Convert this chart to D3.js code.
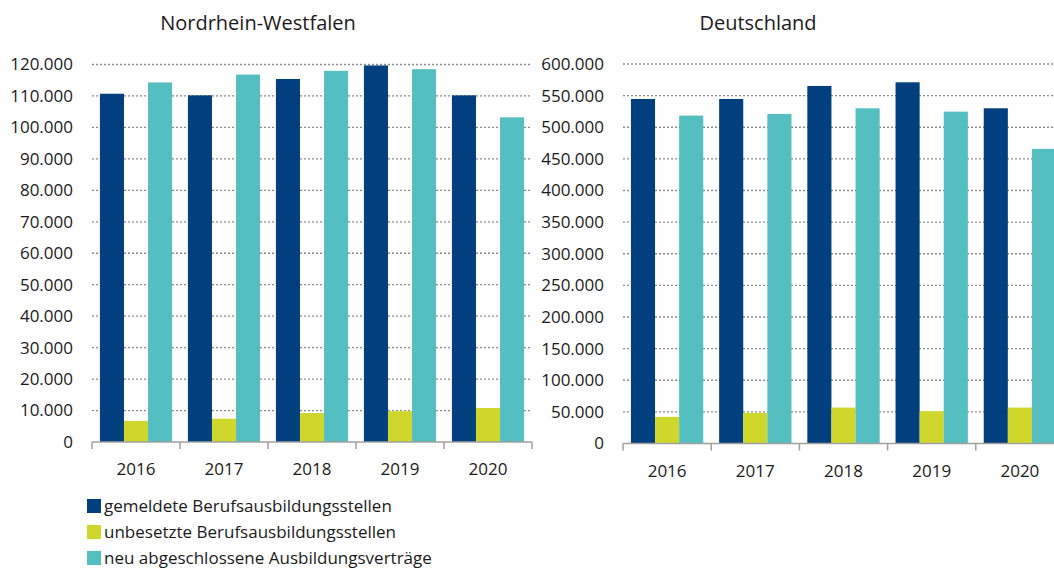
<!DOCTYPE html>
<html><head><meta charset="utf-8">
<script src="https://cdn.jsdelivr.net/npm/d3@7"></script>
<style>body{margin:0;background:#fff}svg{display:block}text{font-family:"Open Sans",sans-serif;fill:#1a1a1a}</style>
</head><body><svg id="c" width="1054" height="571"></svg>
<script>
const years = ["2016","2017","2018","2019","2020"];
const seriesNames = ["gemeldete Berufsausbildungsstellen","unbesetzte Berufsausbildungsstellen","neu abgeschlossene Ausbildungsverträge"];
const colors = ["#023f7f","#d0d72c","#55bec0"];
const nrwGemeldet = [110700,110200,115400,119700,110200];
const nrwUnbesetzt = [6700,7400,9200,9800,10800];
const nrwNeu = [114300,116800,118000,118500,103200];
const deGemeldet = [544700,544700,565300,571100,530000];
const deUnbesetzt = [42100,48400,56800,51000,56800];
const deNeu = [518400,521100,530000,524700,465800];
const nrwTicks = [0,10000,20000,30000,40000,50000,60000,70000,80000,90000,100000,110000,120000];
const deTicks = [0,50000,100000,150000,200000,250000,300000,350000,400000,450000,500000,550000,600000];

const loc = d3.formatLocale({decimal:",",thousands:".",grouping:[3],currency:["","€"]});
const fmt = loc.format(",d");
const svg = d3.select("#c");

function panel(cfg){
  const g = svg.append("g");
  const x = d3.scaleBand().domain(years).range([cfg.x0,cfg.x1]).paddingInner(0.18).paddingOuter(0.09);
  const xs = d3.scaleBand().domain(years).range([cfg.x0,cfg.x1]);
  const y = d3.scaleLinear().domain([0,cfg.max]).range([cfg.y0,cfg.y1]);
  const sub = d3.scaleBand().domain([0,1,2]).range([0,x.bandwidth()]);
  g.selectAll(".grid").data(cfg.ticks.filter(t=>t>0)).join("line")
    .attr("x1",cfg.x0).attr("x2",cfg.gx1).attr("y1",d=>y(d)).attr("y2",d=>y(d))
    .attr("stroke","#8c8c8c").attr("stroke-width",1.3).attr("stroke-dasharray","2,2");
  g.selectAll(".yl").data(cfg.ticks).join("text")
    .attr("x",cfg.x0-19).attr("y",d=>y(d)).attr("dy","0.35em").attr("text-anchor","end")
    .style("font-size","17px").text(d=>fmt(d));
  cfg.series.forEach((vals,si)=>{
    g.selectAll(".b"+si).data(vals).join("rect")
      .attr("x",(d,i)=>x(years[i])+sub(si)).attr("width",sub.bandwidth())
      .attr("y",d=>y(d)).attr("height",d=>y(0)-y(d)).attr("fill",colors[si]);
  });
  const ax = d3.axisBottom(xs).tickSize(0).tickFormat(d=>d);
  const axg = g.append("g").attr("transform",`translate(0,${cfg.y0})`).call(ax);
  axg.select(".domain").remove();
  axg.selectAll("text").attr("dy",null).attr("y",33).style("font-size","17px").style("font-family",'"Open Sans",sans-serif').attr("fill","#1a1a1a");
  g.append("line").attr("x1",cfg.x0).attr("x2",cfg.x1).attr("y1",cfg.y0).attr("y2",cfg.y0)
    .attr("stroke","#a0a0a0").attr("stroke-width",1.5);
  const bounds = years.map(yv=>xs(yv)).concat([cfg.x1]);
  g.selectAll(".tk").data(bounds).join("line")
    .attr("x1",d=>d).attr("x2",d=>d).attr("y1",cfg.y0).attr("y2",cfg.y0+7)
    .attr("stroke","#a0a0a0").attr("stroke-width",1.5);
  g.append("text").attr("x",cfg.tx).attr("y",30).attr("text-anchor","middle")
    .style("font-size","20px").text(cfg.title);
}

panel({x0:92,x1:532,gx1:532,y0:442,y1:64.5,max:120000,ticks:nrwTicks,
  series:[nrwGemeldet,nrwUnbesetzt,nrwNeu],title:"Nordrhein-Westfalen",tx:258});
panel({x0:623,x1:1064,gx1:1064,y0:443.5,y1:64,max:600000,ticks:deTicks,
  series:[deGemeldet,deUnbesetzt,deNeu],title:"Deutschland",tx:758});

const lg = svg.append("g");
seriesNames.forEach((n,i)=>{
  const cy = 506 + i*26;
  lg.append("rect").attr("x",87).attr("y",cy-7).attr("width",14).attr("height",14).attr("fill",colors[i]);
  lg.append("text").attr("x",104).attr("y",cy).attr("dy","0.35em").style("font-size","17px").text(n);
});
</script></body></html>
